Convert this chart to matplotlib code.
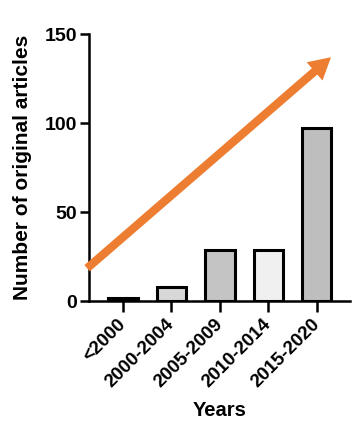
import matplotlib
matplotlib.use("Agg")
import matplotlib.pyplot as plt
from matplotlib.patches import FancyArrowPatch

plt.rcParams["font.family"] = ["Liberation Sans", "DejaVu Sans"]
plt.rcParams["font.weight"] = "bold"
plt.rcParams["axes.labelweight"] = "bold"

periods = ["<2000", "2000-2004", "2005-2009", "2010-2014", "2015-2020"]
articles = [2, 8, 29, 29, 97]
bar_colors = ["#1a1a1a", "#d8d8d8", "#c4c4c4", "#f0f0f0", "#bebebe"]
yticks = [0, 50, 100, 150]

# trend arrow, start and end in data units
trend_start = (-0.74, 18.5)
trend_end = (4.29, 137)

fig = plt.figure(figsize=(3.52, 4.26), dpi=100)
ax = fig.add_axes([0.253, 0.293, 0.741, 0.627])

x = range(len(periods))
ax.bar(x, articles, width=0.6, color=bar_colors, edgecolor="black", linewidth=2.2, zorder=2)

ax.set_xlim(-0.7, 4.68)
ax.set_ylim(0, 150)
ax.set_yticks(yticks)
ax.set_xticks(list(x))
ax.set_xticklabels(periods, rotation=45, ha="right", va="center",
                   rotation_mode="anchor", fontsize=13.5)
ax.tick_params(axis="y", labelsize=14, width=1.8, length=6.5, pad=2)
ax.tick_params(axis="x", width=1.8, length=8, pad=7)

for side in ["top", "right"]:
    ax.spines[side].set_visible(False)
for side in ["left", "bottom"]:
    ax.spines[side].set_linewidth(1.8)
ax.spines["left"].set_bounds(0, 150)

ax.set_ylabel("Number of original articles", fontsize=15, labelpad=9)
ax.set_xlabel("Years", fontsize=14.5, labelpad=7)

arrow = FancyArrowPatch(trend_start, trend_end,
                        arrowstyle="simple,head_width=2.9,head_length=2.6,tail_width=1.0",
                        mutation_scale=6, color="#ed7d31", linewidth=0,
                        clip_on=False, zorder=3, shrinkA=0, shrinkB=0)
ax.add_patch(arrow)

fig.savefig("out.png", dpi=100)
